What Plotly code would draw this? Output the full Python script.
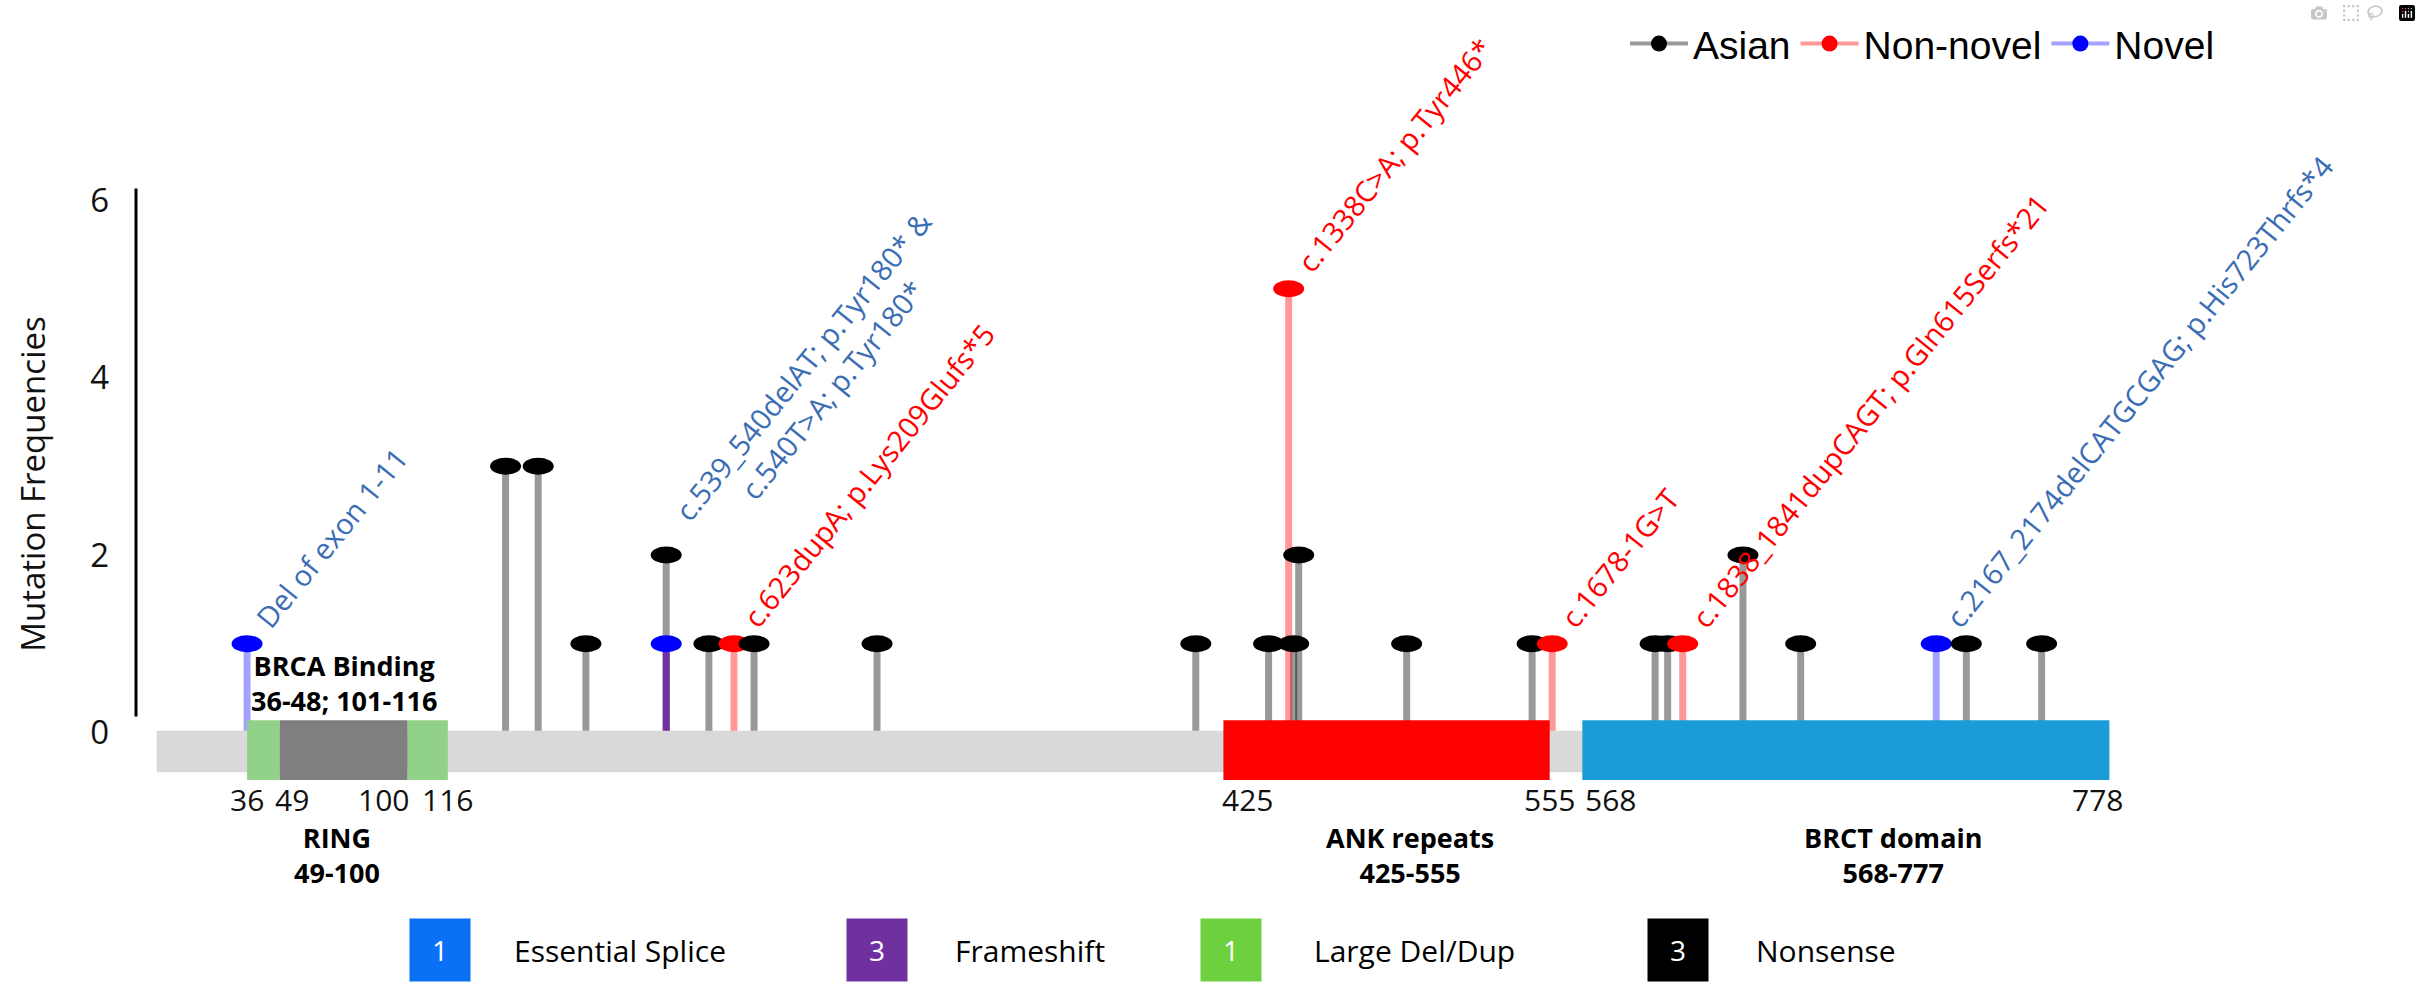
import plotly.graph_objects as go

# ---------------- data ----------------
protein_length = 778
domain_kind = ["BRCA Binding", "RING", "BRCA Binding", "ANK repeats", "BRCT domain"]
domain_start = [36, 49, 100, 425, 568]
domain_end = [49, 100, 116, 555, 778]
domain_caption = {"BRCA Binding": "36-48; 101-116", "RING": "49-100",
                  "ANK repeats": "425-555", "BRCT domain": "568-777"}
position_ticks = [36, 49, 100, 116, 425, 555, 568, 778]

mut_pos = [36, 139, 152, 171, 203, 203, 220, 230, 238, 287, 414, 443, 451,
           453, 455, 498, 548, 556, 597, 602, 608, 632, 655, 709, 721, 751]
mut_freq = [1, 3, 3, 1, 2, 1, 1, 1, 1, 1, 1, 1, 5,
            1, 2, 1, 1, 1, 1, 1, 1, 2, 1, 1, 1, 1]
mut_group = ["Novel", "Asian", "Asian", "Asian", "Asian", "Novel", "Asian", "Non-novel",
             "Asian", "Asian", "Asian", "Asian", "Non-novel", "Asian", "Asian", "Asian",
             "Asian", "Non-novel", "Asian", "Asian", "Non-novel", "Asian", "Asian",
             "Novel", "Asian", "Asian"]

label_pos = [36, 203, 230, 451, 556, 608, 709]
label_text = ["Del of exon 1-11",
              "c.539_540delAT; p.Tyr180* &<br>c.540T>A; p.Tyr180*",
              "c.623dupA; p.Lys209Glufs*5",
              "c.1338C>A; p.Tyr446*",
              "c.1678-1G>T",
              "c.1838_1841dupCAGT; p.Gln615Serfs*21",
              "c.2167_2174delCATGCGAG; p.His723Thrfs*4"]
label_group = ["Novel", "Novel", "Non-novel", "Non-novel", "Non-novel", "Non-novel", "Novel"]

groups = ["Asian", "Non-novel", "Novel"]
consequence_names = ["Essential Splice", "Frameshift", "Large Del/Dup", "Nonsense"]
consequence_counts = [1, 3, 1, 3]

# ---------------- styles / layout ----------------
FONT = "Open Sans"
head_color = {"Asian": "#000000", "Non-novel": "#ff0000", "Novel": "#0000ff"}
stem_color = {"Asian": "rgba(0,0,0,0.4)", "Non-novel": "rgba(255,0,0,0.4)",
              "Novel": "rgba(0,0,255,0.36)"}
overlap_stem_color = "#7030a0"
label_color = {"Novel": "#3a6db3", "Non-novel": "#ff0000"}
domain_color = {"BRCA Binding": "#92d18a", "RING": "#7f7f7f",
                "ANK repeats": "#ff0000", "BRCT domain": "#1a9cd8"}
domain_label_above = {"BRCA Binding": True, "RING": False,
                      "ANK repeats": False, "BRCT domain": False}
domain_label_dx = {"BRCA Binding": -3, "RING": -7, "ANK repeats": 23, "BRCT domain": 47}
consequence_color = ["#0a70f5", "#7030a0", "#6dd13f", "#000000"]
tick_nudge = {49: 12, 100: -24, 425: 24, 568: 28, 778: -12}  # px, keeps crowded labels apart
LABEL_ANGLE = -51
LABEL_SIZE = 29

W, H = 2421, 999
ML, MR, MT, MB = 136, 221, 185, 219
X_RANGE = [-8.25, 814.1]
Y_RANGE = [-0.536, 6.135]
PW, PH = W - ML - MR, H - MT - MB
px_x = PW / (X_RANGE[1] - X_RANGE[0])
px_y = PH / (Y_RANGE[1] - Y_RANGE[0])

BAR_TOP, BAR_BOT = 0.02, -0.45
DOM_TOP, DOM_BOT = 0.137, -0.536
HEAD_W_PX, HEAD_H_PX = 31, 17
STEM_W = 7

fig = go.Figure()

# stems
asian_positions = {p for p, g in zip(mut_pos, mut_group) if g == "Asian"}
for g in groups:
    xs, ys, xo, yo = [], [], [], []
    for p, f, gg in zip(mut_pos, mut_freq, mut_group):
        if gg != g:
            continue
        if g == "Novel" and p in asian_positions:
            xo += [p, p, None]; yo += [0, f, None]
        else:
            xs += [p, p, None]; ys += [0, f, None]
    fig.add_trace(go.Scatter(x=xs, y=ys, mode="lines", showlegend=False, hoverinfo="skip",
                             line=dict(color=stem_color[g], width=STEM_W)))
    if xo:
        fig.add_trace(go.Scatter(x=xo, y=yo, mode="lines", showlegend=False, hoverinfo="skip",
                                 line=dict(color=overlap_stem_color, width=STEM_W)))

# legend-only entries
for g in groups:
    fig.add_trace(go.Scatter(x=[None], y=[None], mode="lines+markers", name=g,
                             line=dict(color=stem_color[g], width=4),
                             marker=dict(color=head_color[g], size=16)))

shapes = []
# protein backbone
shapes.append(dict(type="rect", xref="x", yref="y", x0=0, x1=protein_length,
                   y0=BAR_BOT, y1=BAR_TOP, fillcolor="#d9d9d9", line=dict(width=0),
                   layer="above"))
for k, s, e in zip(domain_kind, domain_start, domain_end):
    shapes.append(dict(type="rect", xref="x", yref="y", x0=s, x1=e, y0=DOM_BOT, y1=DOM_TOP,
                       fillcolor=domain_color[k], line=dict(width=0), layer="above"))
# lollipop heads (ellipses)
dx = HEAD_W_PX / 2 / px_x
dy = HEAD_H_PX / 2 / px_y
for p, f, g in sorted(zip(mut_pos, mut_freq, mut_group), key=lambda t: t[0]):
    shapes.append(dict(type="circle", xref="x", yref="y", x0=p - dx, x1=p + dx,
                       y0=f - dy, y1=f + dy, fillcolor=head_color[g], line=dict(width=0),
                       layer="above"))
# y axis line
shapes.append(dict(type="line", xref="paper", yref="y", x0=0, x1=0, y0=0.18, y1=6.13,
                   line=dict(color="#000000", width=3)))

annotations = []
# mutation labels
for p, t, g in zip(label_pos, label_text, label_group):
    top = max(f for pp, f in zip(mut_pos, mut_freq) if pp == p)
    nlines = t.count("<br>") + 1
    annotations.append(dict(x=p, y=top, xref="x", yref="y", text=t, showarrow=False,
                            textangle=LABEL_ANGLE, xanchor="left", yanchor="bottom",
                            xshift=-3, yshift=6 - 6 * (nlines - 1),
                            font=dict(family=FONT, size=LABEL_SIZE, color=label_color[g])))
# domain labels (name + range, two lines)
for k in dict.fromkeys(domain_kind):
    s = min(st for kk, st in zip(domain_kind, domain_start) if kk == k)
    e = max(en for kk, en in zip(domain_kind, domain_end) if kk == k)
    mid = (s + e) / 2
    annotations.append(dict(x=mid, y=0, xref="x", yref="y",
                            text="<b>%s<br>%s</b>" % (k, domain_caption[k]),
                            showarrow=False, xanchor="center", yanchor="middle",
                            xshift=domain_label_dx[k],
                            yshift=49 if domain_label_above[k] else -123,
                            font=dict(family=FONT, size=27, color="#000000")))

# position labels at the domain boundaries (under the protein bar)
for v in position_ticks:
    annotations.append(dict(x=v, y=0, xref="x", yref="paper", text=str(v), showarrow=False,
                            xanchor="center", yanchor="top", xshift=tick_nudge.get(v, 0),
                            yshift=3, font=dict(family=FONT, size=30, color="#111111")))

# consequence legend (bottom)
sq_centers = [440, 876.5, 1230.5, 1677.5]
txt_starts = [512, 953, 1312, 1754]
leg_y = 951


def xp(px):
    return (px - ML) / PW


def yp(py):
    return (H - MB - py) / PH


for name, cnt, col, cx, tx in zip(consequence_names, consequence_counts, consequence_color,
                                  sq_centers, txt_starts):
    annotations.append(dict(x=xp(cx), y=yp(leg_y), xref="paper", yref="paper", text=str(cnt),
                            showarrow=False, xanchor="center", yanchor="middle",
                            width=60, height=62, bgcolor=col, borderpad=0,
                            font=dict(family=FONT, size=28, color="#ffffff")))
    annotations.append(dict(x=xp(tx), y=yp(leg_y), xref="paper", yref="paper", text=name,
                            showarrow=False, xanchor="left", yanchor="middle",
                            font=dict(family=FONT, size=30, color="#000000")))

fig.update_layout(
    width=W, height=H, margin=dict(l=ML, r=MR, t=MT, b=MB, pad=0),
    paper_bgcolor="#ffffff", plot_bgcolor="#ffffff",
    shapes=shapes, annotations=annotations,
    xaxis=dict(range=X_RANGE, tickvals=position_ticks, ticks="", showticklabels=False,
               showgrid=False, zeroline=False, showline=False, automargin=False,
               fixedrange=True),
    yaxis=dict(range=Y_RANGE, tickvals=[0, 2, 4, 6], ticks="", showgrid=False,
               zeroline=False, showline=False, ticklabelstandoff=26,
               tickfont=dict(family=FONT, size=33, color="#111111"),
               title=dict(text="Mutation Frequencies", standoff=34,
                          font=dict(family=FONT, size=33, color="#111111")),
               automargin=False, fixedrange=True),
    legend=dict(orientation="h", x=xp(1625), xanchor="left", y=yp(40), yanchor="middle",
                font=dict(family="Liberation Sans, Arial", size=39, color="#000000"),
                itemwidth=58, bgcolor="rgba(0,0,0,0)", traceorder="normal"),
    showlegend=True,
)

fig.write_html("out.html", post_script="document.body.style.margin='0';")
